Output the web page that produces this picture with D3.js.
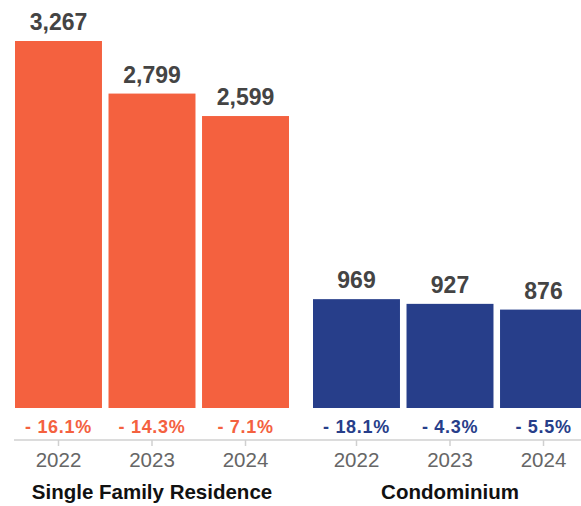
<!DOCTYPE html>
<html>
<head>
<meta charset="utf-8">
<script src="https://cdn.jsdelivr.net/npm/d3@7"></script>
<style>
  body { margin: 0; background: #fff; }
  svg { display: block; font-family: "Liberation Sans", Arial, Helvetica, sans-serif; }
</style>
</head>
<body>
<script>
// data
var groups = ["Single Family Residence", "Condominium"];
var years = ["2022", "2023", "2024"];
var sfrValues = [3267, 2799, 2599];
var condoValues = [969, 927, 876];
var sfrChange = ["- 16.1%", "- 14.3%", "- 7.1%"];
var condoChange = ["- 18.1%", "- 4.3%", "- 5.5%"];
var colors = ["#f4613f", "#273e8a"];

var width = 581, height = 506;
var baseY = 408, axisY = 440;

var data = [];
groups.forEach(function(g, gi) {
    var vals = gi === 0 ? sfrValues : condoValues;
    var chg = gi === 0 ? sfrChange : condoChange;
    years.forEach(function(y, i) {
        data.push({group: g, year: y, value: vals[i], change: chg[i], gi: gi});
    });
});

var svg = d3.select("body").append("svg")
    .attr("width", width)
    .attr("height", height);

// scales
var x0 = d3.scaleBand().domain(groups).range([15, 587]).paddingInner(24 / 298);
var x1 = d3.scaleBand().domain(years).range([0, x0.bandwidth()]).paddingInner(0.07);
var y = d3.scaleLinear().domain([0, 3267]).range([baseY, 41]);

function cx(d) { return x0(d.group) + x1(d.year) + x1.bandwidth() / 2; }

var g = svg.append("g");

g.selectAll(".bar")
    .data(data)
    .enter().append("rect")
    .attr("class", "bar")
    .attr("x", function(d) { return x0(d.group) + x1(d.year); })
    .attr("y", function(d) { return y(d.value); })
    .attr("width", x1.bandwidth())
    .attr("height", function(d) { return baseY - y(d.value); })
    .attr("fill", function(d) { return colors[d.gi]; });

// value labels
g.selectAll(".val")
    .data(data)
    .enter().append("text")
    .attr("class", "val")
    .attr("x", cx)
    .attr("y", function(d) { return y(d.value) - 11; })
    .attr("text-anchor", "middle")
    .attr("font-size", 23)
    .attr("font-weight", "bold")
    .attr("fill", "#444")
    .text(function(d) { return d3.format(",")(d.value); });

// percent change labels
g.selectAll(".chg")
    .data(data)
    .enter().append("text")
    .attr("class", "chg")
    .attr("x", cx)
    .attr("y", 433)
    .attr("text-anchor", "middle")
    .attr("font-size", 18)
    .attr("font-weight", "bold")
    .attr("letter-spacing", 0.7)
    .attr("fill", function(d) { return colors[d.gi]; })
    .text(function(d) { return d.change; });

// axis line and ticks
g.append("line")
    .attr("x1", 14).attr("x2", width)
    .attr("y1", axisY).attr("y2", axisY)
    .attr("stroke", "#d0d0d0").attr("stroke-width", 1.5);

g.selectAll(".tick")
    .data(data)
    .enter().append("line")
    .attr("class", "tick")
    .attr("x1", cx)
    .attr("x2", cx)
    .attr("y1", axisY).attr("y2", axisY + 6)
    .attr("stroke", "#d0d0d0").attr("stroke-width", 1.5);

// year labels
g.selectAll(".yr")
    .data(data)
    .enter().append("text")
    .attr("class", "yr")
    .attr("x", cx)
    .attr("y", 467)
    .attr("text-anchor", "middle")
    .attr("font-size", 20.5)
    .attr("fill", "#666")
    .text(function(d) { return d.year; });

// group labels
g.selectAll(".grp")
    .data(groups)
    .enter().append("text")
    .attr("class", "grp")
    .attr("x", function(d) { return x0(d) + x0.bandwidth() / 2; })
    .attr("y", 499)
    .attr("text-anchor", "middle")
    .attr("font-size", 20.5)
    .attr("font-weight", "bold")
    .attr("fill", "#111")
    .text(function(d) { return d; });
</script>
</body>
</html>
